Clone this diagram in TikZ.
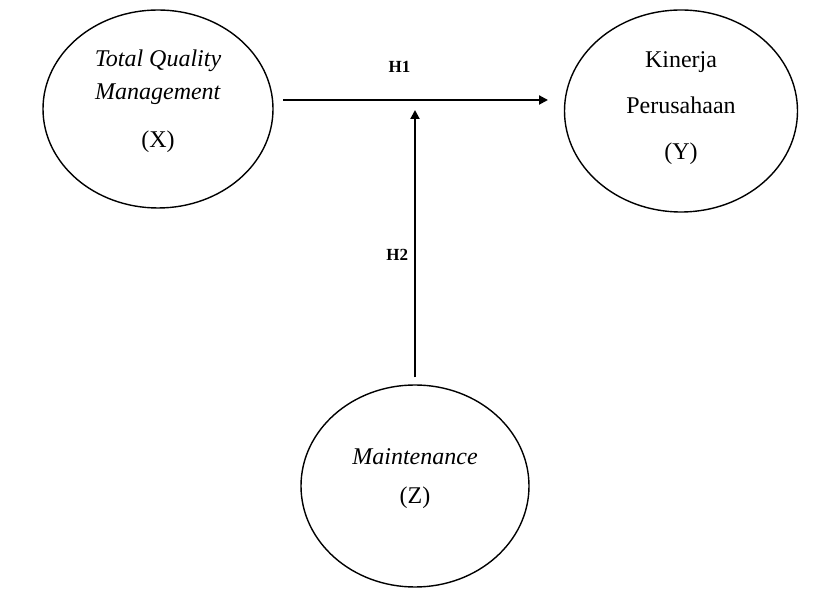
\documentclass[tikz,border=0pt]{standalone}
\usepackage{fontspec}
\setmainfont{Liberation Serif}
\usetikzlibrary{arrows.meta,positioning,shapes.geometric}
\tikzset{
  variabel/.style={draw,ellipse,line width=0.7pt,inner sep=0pt,align=center,
                   font=\fontsize{12}{14.4}\selectfont},
  panah/.style={-{Triangle[length=4.5pt,width=4.5pt]},line width=1pt},
  hipotesis/.style={font=\fontsize{8.5}{10}\selectfont\bfseries,inner sep=1pt},
}
\newcommand{\kedalaman}[1]{\rule[-#1]{0pt}{#1}}

\begin{document}
\begin{tikzpicture}[x=0.5pt,y=-0.5pt]
  \useasboundingbox (0,0) rectangle (830,597);
  % variabel
  \node[variabel,minimum width=115pt,minimum height=99pt] (X) at (158,109)
    {\textit{Total Quality}\\[2pt]\textit{Management}\\[9.5pt](X)\kedalaman{10.5pt}};
  \node[variabel,minimum width=116.5pt,minimum height=101pt] (Y) at (681,111)
    {Kinerja\\[9pt]Perusahaan\\[8.5pt](Y)\kedalaman{5.5pt}};
  \node[variabel,minimum width=114pt,minimum height=101pt] (Z) at (415,486)
    {\textit{Maintenance}\\[5pt](Z)\kedalaman{10pt}};
  % hubungan
  \coordinate (h1a) at (283,100);
  \coordinate (h1b) at (548,100);
  \coordinate (h2b) at (415,110);
  \draw[panah] (h1a) -- node[hipotesis,pos=0.44,above=12pt] {H1} (h1b);
  \draw[panah,shorten <=3.5pt] (Z.north) -- node[hipotesis,pos=0.47,left=2pt] {H2} (h2b);
\end{tikzpicture}
\end{document}
